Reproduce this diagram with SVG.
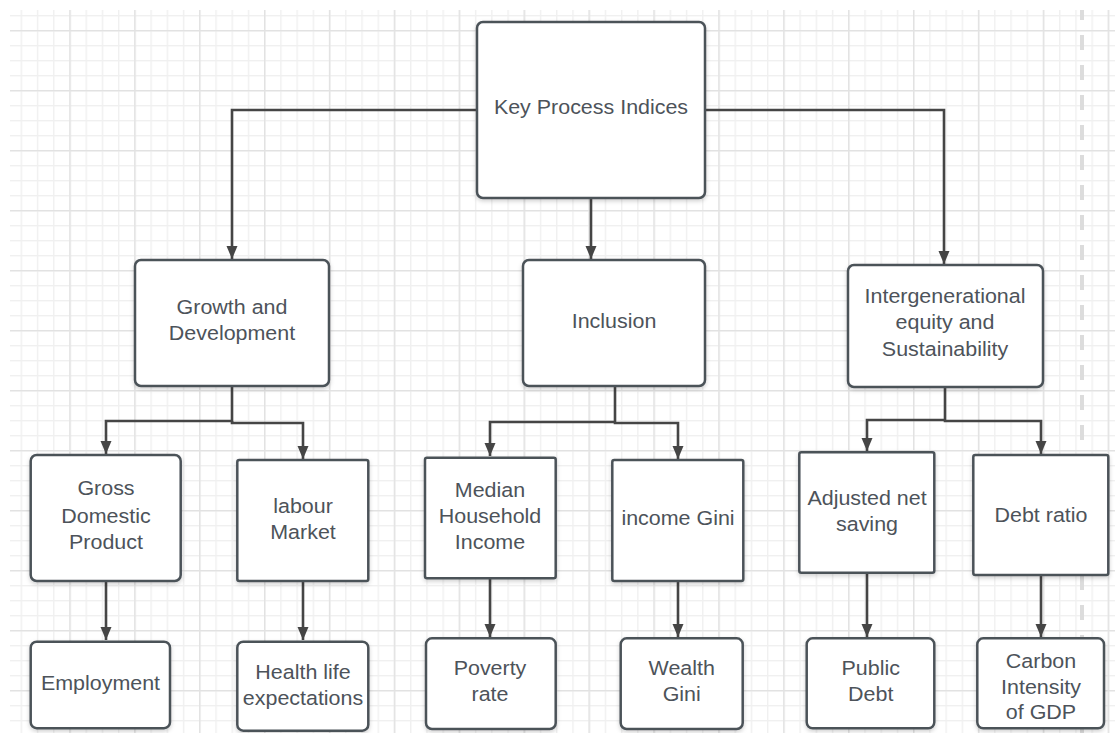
<svg xmlns="http://www.w3.org/2000/svg" width="1115" height="733" viewBox="0 0 1115 733">
<style>
.box{fill:#fff;stroke:#4b5259;stroke-width:2.5;filter:url(#sh)}
.lbl{font-family:"Liberation Sans",Arial,sans-serif;font-size:19.5px;fill:#4d535a;text-anchor:middle}
.con{fill:none;stroke:#454545;stroke-width:2.6;marker-end:url(#ah)}
</style>
<defs>
<filter id="sh" x="-10%" y="-10%" width="120%" height="125%">
<feDropShadow dx="0" dy="2" stdDeviation="2" flood-color="#000" flood-opacity="0.18"/>
</filter>
<marker id="ah" markerUnits="userSpaceOnUse" markerWidth="14" markerHeight="14" viewBox="0 0 14 14" refX="13" refY="7" orient="auto">
<path d="M0,1.5 L13,7 L0,12.5 z" fill="#454545"/>
</marker>
<pattern id="vmin" patternUnits="userSpaceOnUse" x="69.3" y="0" width="16.225" height="733">
<rect x="0" y="0" width="1.4" height="733" fill="#f0f0f0"/>
</pattern>
<pattern id="hmin" patternUnits="userSpaceOnUse" x="0" y="30" width="1115" height="15">
<rect x="0" y="0" width="1115" height="1.4" fill="#f0f0f0"/>
</pattern>
<pattern id="vmaj" patternUnits="userSpaceOnUse" x="69.3" y="0" width="64.9" height="733">
<rect x="0" y="0" width="1.4" height="733" fill="#e2e2e2"/>
</pattern>
<pattern id="hmaj" patternUnits="userSpaceOnUse" x="0" y="30" width="1115" height="60">
<rect x="0" y="0" width="1115" height="1.4" fill="#e2e2e2"/>
</pattern>
</defs>
<rect width="1115" height="733" fill="#fff"/>
<g id="grid">
<rect x="10" y="10" width="1105" height="723" fill="url(#vmin)"/>
<rect x="10" y="10" width="1105" height="723" fill="url(#hmin)"/>
<rect x="10" y="10" width="1105" height="723" fill="url(#vmaj)"/>
<rect x="10" y="10" width="1105" height="723" fill="url(#hmaj)"/>
<line x1="1082" y1="10" x2="1082" y2="733" stroke="#dcdcdc" stroke-width="4" stroke-dasharray="15 15" stroke-dashoffset="5"/>
</g>
<g id="connectors">
<path class="con" d="M477,110 H232 V259"/>
<path class="con" d="M591,198 V259"/>
<path class="con" d="M705,110 H944 V264"/>
<path class="con" d="M232,386 V421 H106 V454"/>
<path class="con" d="M232,421 V423 H303 V459"/>
<path class="con" d="M106,581 V640"/>
<path class="con" d="M303,581 V640"/>
<path class="con" d="M615,386 V422 H490 V456"/>
<path class="con" d="M615,422 V423 H678 V459"/>
<path class="con" d="M490,578 V637"/>
<path class="con" d="M678,581 V637"/>
<path class="con" d="M945,387 V420 H867 V451"/>
<path class="con" d="M945,420 V421 H1041 V454"/>
<path class="con" d="M867,573 V637"/>
<path class="con" d="M1041,575 V637"/>
</g>
<g id="kpi">
<rect class="box" x="477" y="22" width="228" height="176" rx="6"/>
<text class="lbl" transform="translate(591,0) scale(1.1,1)" x="0" y="114">Key Process Indices</text>
</g>
<g id="growth">
<rect class="box" x="135" y="260" width="194" height="126" rx="6"/>
<text class="lbl" transform="translate(232,0) scale(1.1,1)"><tspan x="0" y="314">Growth and</tspan><tspan x="0" y="340">Development</tspan></text>
</g>
<g id="inclusion">
<rect class="box" x="523" y="260" width="182" height="126" rx="6"/>
<text class="lbl" transform="translate(614,0) scale(1.1,1)" x="0" y="328">Inclusion</text>
</g>
<g id="intergen">
<rect class="box" x="848" y="265" width="195" height="122" rx="6"/>
<text class="lbl" transform="translate(945,0) scale(1.1,1)"><tspan x="0" y="303">Intergenerational</tspan><tspan x="0" y="329">equity and</tspan><tspan x="0" y="356">Sustainability</tspan></text>
</g>
<g id="gdp">
<rect class="box" x="30.7" y="455" width="150" height="126" rx="6"/>
<text class="lbl" transform="translate(106,0) scale(1.1,1)"><tspan x="0" y="495">Gross</tspan><tspan x="0" y="523">Domestic</tspan><tspan x="0" y="549">Product</tspan></text>
</g>
<g id="labour">
<rect class="box" x="237.3" y="460" width="131" height="121" rx="2"/>
<text class="lbl" transform="translate(303,0) scale(1.1,1)"><tspan x="0" y="513">labour</tspan><tspan x="0" y="539">Market</tspan></text>
</g>
<g id="employment">
<rect class="box" x="30.7" y="641.7" width="139.3" height="86.5" rx="6"/>
<text class="lbl" transform="translate(100.5,0) scale(1.1,1)" x="0" y="690">Employment</text>
</g>
<g id="health">
<rect class="box" x="237.3" y="641.7" width="131" height="89" rx="6"/>
<text class="lbl" transform="translate(303,0) scale(1.1,1)"><tspan x="0" y="679">Health life</tspan><tspan x="0" y="705">expectations</tspan></text>
</g>
<g id="median">
<rect class="box" x="425" y="457.7" width="130.7" height="120.6" rx="2"/>
<text class="lbl" transform="translate(490,0) scale(1.1,1)"><tspan x="0" y="497">Median</tspan><tspan x="0" y="523">Household</tspan><tspan x="0" y="549">Income</tspan></text>
</g>
<g id="incomegini">
<rect class="box" x="612.3" y="460" width="131" height="121" rx="2"/>
<text class="lbl" transform="translate(678,0) scale(1.1,1)" x="0" y="525">income Gini</text>
</g>
<g id="poverty">
<rect class="box" x="426" y="638.3" width="129.7" height="90.7" rx="6"/>
<text class="lbl" transform="translate(490,0) scale(1.1,1)"><tspan x="0" y="675.3">Poverty</tspan><tspan x="0" y="701">rate</tspan></text>
</g>
<g id="wealth">
<rect class="box" x="620.7" y="638.3" width="122" height="90.7" rx="6"/>
<text class="lbl" transform="translate(681.7,0) scale(1.1,1)"><tspan x="0" y="675.3">Wealth</tspan><tspan x="0" y="701">Gini</tspan></text>
</g>
<g id="adjusted">
<rect class="box" x="799.3" y="452.3" width="135" height="120.4" rx="2"/>
<text class="lbl" transform="translate(867,0) scale(1.1,1)"><tspan x="0" y="505.3">Adjusted net</tspan><tspan x="0" y="531">saving</tspan></text>
</g>
<g id="debtratio">
<rect class="box" x="973.3" y="455" width="135" height="120" rx="2"/>
<text class="lbl" transform="translate(1041,0) scale(1.1,1)" x="0" y="522">Debt ratio</text>
</g>
<g id="publicdebt">
<rect class="box" x="806.7" y="638.3" width="127.6" height="90" rx="6"/>
<text class="lbl" transform="translate(870.7,0) scale(1.1,1)"><tspan x="0" y="675.3">Public</tspan><tspan x="0" y="701">Debt</tspan></text>
</g>
<g id="carbon">
<rect class="box" x="977.3" y="638.3" width="126.7" height="90" rx="6"/>
<text class="lbl" transform="translate(1041,0) scale(1.1,1)"><tspan x="0" y="668">Carbon</tspan><tspan x="0" y="693.7">Intensity</tspan><tspan x="0" y="719.3">of GDP</tspan></text>
</g>
</svg>
